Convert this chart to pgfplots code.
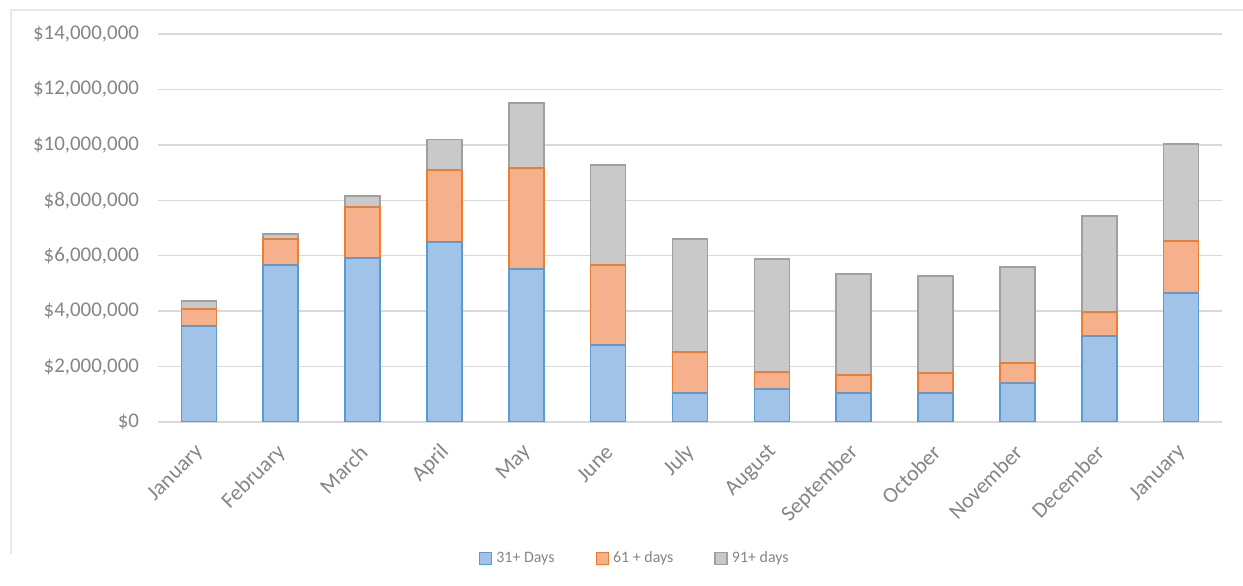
\documentclass[border=0pt]{standalone}
\usepackage{fontspec}
\setmainfont{Carlito}
\usepackage{pgfplots}
\pgfplotsset{compat=1.18}
\usepackage{pgfplotstable}

\definecolor{blueedge}{HTML}{5B9BD5}
\definecolor{bluefill}{HTML}{A2C3E8}
\definecolor{orangeedge}{HTML}{ED7D31}
\definecolor{orangefill}{HTML}{F5B08C}
\definecolor{grayedge}{HTML}{A0A0A0}
\definecolor{grayfill}{HTML}{C9C9C9}
\definecolor{txtgray}{HTML}{858585}
\definecolor{gridgray}{HTML}{D9D9D9}

% aged receivables, millions of dollars
\pgfplotstableread{
x  d31   d61   d91
0  3.47  0.61  0.29
1  5.67  0.93  0.19
2  5.92  1.84  0.40
3  6.50  2.60  1.10
4  5.52  3.65  2.33
5  2.78  2.89  3.61
6  1.05  1.48  4.07
7  1.19  0.61  4.08
8  1.05  0.65  3.64
9  1.05  0.72  3.50
10 1.41  0.72  3.47
11 3.10  0.87  3.47
12 4.66  1.87  3.51
}\aging

\begin{document}
\begin{tikzpicture}
% page: 1243 x 586 px at 0.5bp per px
\path[use as bounding box] (0,0) rectangle (621.5bp,293bp);
\draw[gridgray!60, line width=0.6bp] (5.5bp,16bp) -- (5.5bp,288bp) -- (621.5bp,288bp);
\begin{axis}[
  at={(79bp,82bp)}, anchor=south west,
  scale only axis,
  width=532bp, height=194bp,
  ybar stacked,
  bar width=17.5bp,
  xmin=-0.5, xmax=12.5,
  ymin=0, ymax=14,
  xtick=data,
  xticklabels={January,February,March,April,May,June,July,August,September,October,November,December,January},
  ytick={0,2,4,6,8,10,12,14},
  yticklabels={\$0,{\$2,000,000},{\$4,000,000},{\$6,000,000},{\$8,000,000},{\$10,000,000},{\$12,000,000},{\$14,000,000}},
  axis line style={draw=none},
  tick style={draw=none},
  ymajorgrids,
  grid style={gridgray, line width=0.7bp},
  tick label style={text=txtgray},
  yticklabel style={font=\fontsize{10.5}{12}\selectfont, anchor=east, xshift=-6bp},
  xticklabel style={font=\fontsize{11}{12}\selectfont, rotate=45, anchor=east, yshift=-10bp, xshift=-8bp, inner sep=1bp},
  legend style={
    at={(0.449,-0.352)}, anchor=center,
    draw=none, fill=none,
    font=\fontsize{8}{10}\selectfont, text=txtgray,
    legend columns=3,
    /tikz/every even column/.append style={column sep=18.5bp},
  },
  legend image code/.code={\draw[#1] (0bp,-3bp) rectangle (6bp,3bp);},
]
\addplot[fill=bluefill, draw=blueedge, line width=0.8bp] table[x=x, y=d31] {\aging};
\addplot[fill=orangefill, draw=orangeedge, line width=0.8bp] table[x=x, y=d61] {\aging};
\addplot[fill=grayfill, draw=grayedge, line width=0.8bp] table[x=x, y=d91] {\aging};
\legend{31+ Days, 61 + days, 91+ days}
\end{axis}
\end{tikzpicture}
\end{document}
